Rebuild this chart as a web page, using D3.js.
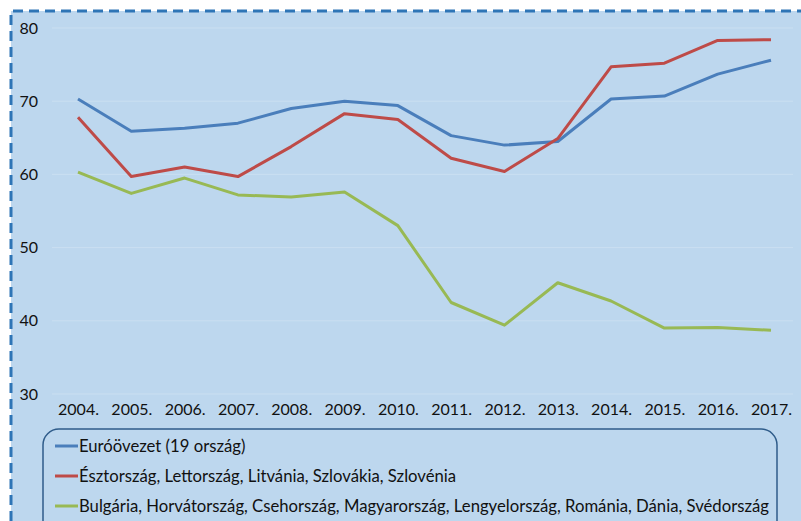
<!DOCTYPE html>
<html>
<head>
<meta charset="utf-8">
<script src="https://cdn.jsdelivr.net/npm/d3@7"></script>
<style>
  body { margin: 0; background: #fff; }
  svg { display: block; }
</style>
</head>
<body>
<svg></svg>
<script>
let years = ["2004.", "2005.", "2006.", "2007.", "2008.", "2009.", "2010.", "2011.", "2012.", "2013.", "2014.", "2015.", "2016.", "2017."]
let yTicks = [30, 40, 50, 60, 70, 80]

let euroZone = [70.3, 65.9, 66.3, 67.0, 69.0, 70.0, 69.4, 65.3, 64.0, 64.5, 70.3, 70.7, 73.7, 75.6]
let baltic = [67.8, 59.7, 61.0, 59.7, 63.8, 68.3, 67.5, 62.2, 60.4, 64.9, 74.7, 75.2, 78.3, 78.4]
let others = [60.3, 57.4, 59.5, 57.2, 56.9, 57.6, 53.0, 42.5, 39.4, 45.2, 42.7, 39.0, 39.1, 38.7]

let seriesNames = [
    "Euróövezet (19 ország)",
    "Észtország, Lettország, Litvánia, Szlovákia, Szlovénia",
    "Bulgária, Horvátország, Csehország, Magyarország, Lengyelország, Románia, Dánia, Svédország"
]
let colors = ["#4a7ebb", "#be4b48", "#98b954"]

let width = 801
let height = 521
let font = "Lato, 'Open Sans', sans-serif"

let svg = d3.select("svg")
    .attr("width", width)
    .attr("height", height)

// background + dashed frame
svg.append("rect")
    .attr("x", 11).attr("y", 11)
    .attr("width", width).attr("height", height)
    .attr("fill", "#bdd7ee")
svg.append("path")
    .attr("d", "M11," + height + " L11,11 L" + width + ",11")
    .attr("fill", "none")
    .attr("stroke", "#2e75b6")
    .attr("stroke-width", 3)
    .attr("stroke-dasharray", "10,6")

let xScale = d3.scalePoint()
    .domain(years)
    .range([78, 771])

let yScale = d3.scaleLinear()
    .domain([30, 80])
    .range([394, 28])

// grid
svg.append("g")
    .selectAll("line")
    .data(yTicks)
    .enter()
    .append("line")
    .attr("x1", 52).attr("x2", 793)
    .attr("y1", d => yScale(d)).attr("y2", d => yScale(d))
    .attr("stroke", "#cadff1")
    .attr("stroke-width", 1)

// y axis labels
let yAxis = d3.axisLeft(yScale).tickValues(yTicks).tickSize(0).tickPadding(0)
let gy = svg.append("g")
    .attr("transform", "translate(38,0)")
    .call(yAxis)
gy.select(".domain").remove()
gy.selectAll("text")
    .attr("font-family", font)
    .attr("font-size", 16)
    .attr("fill", "#111")

// x axis labels
let xAxis = d3.axisBottom(xScale).tickSize(0).tickPadding(0)
let gx = svg.append("g")
    .attr("transform", "translate(0,404)")
    .call(xAxis)
gx.select(".domain").remove()
gx.selectAll("text")
    .attr("font-family", font)
    .attr("font-size", 16)
    .attr("fill", "#111")

// lines
let line = d3.line()
    .x((d, i) => xScale(years[i]))
    .y(d => yScale(d))

let allSeries = [euroZone, baltic, others]

svg.append("g")
    .selectAll("path")
    .data(allSeries)
    .enter()
    .append("path")
    .attr("d", d => line(d))
    .attr("fill", "none")
    .attr("stroke", (d, i) => colors[i])
    .attr("stroke-width", 3)
    .attr("stroke-linejoin", "round")

// legend
let legend = svg.append("g")
legend.append("rect")
    .attr("x", 43).attr("y", 429)
    .attr("width", 734).attr("height", 120)
    .attr("rx", 16)
    .attr("fill", "none")
    .attr("stroke", "#2f5c8a")
    .attr("stroke-width", 1.5)

let entries = legend.selectAll(".entry")
    .data(seriesNames)
    .enter()
    .append("g")
    .attr("transform", (d, i) => "translate(0," + (446 + i * 30) + ")")

entries.append("line")
    .attr("x1", 55).attr("x2", 78)
    .attr("stroke", (d, i) => colors[i])
    .attr("stroke-width", 3)

entries.append("text")
    .attr("x", 79)
    .attr("dy", "0.35em")
    .attr("font-family", font)
    .attr("font-size", 16.7)
    .attr("fill", "#111")
    .text(d => d)
</script>
</body>
</html>
